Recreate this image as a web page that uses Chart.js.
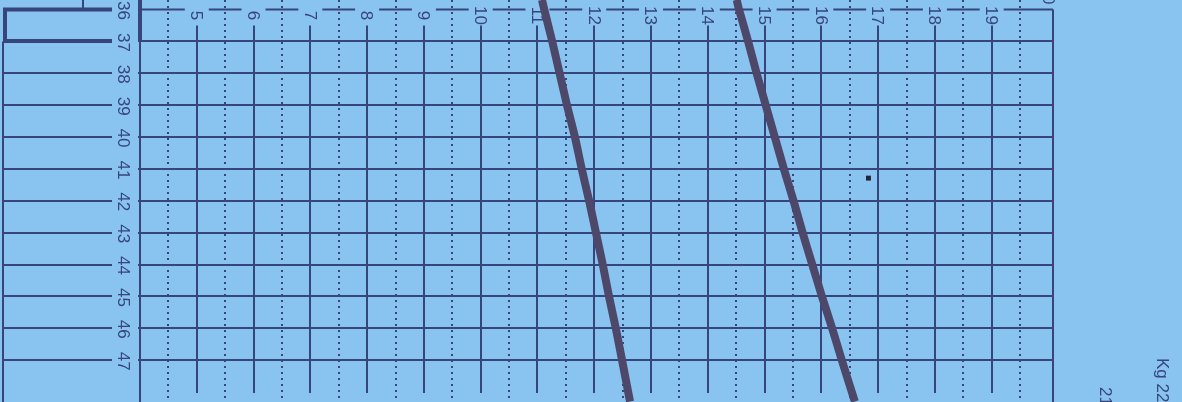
<!DOCTYPE html>
<html>
<head>
<meta charset="utf-8">
<script src="https://cdn.jsdelivr.net/npm/chart.js@4/dist/chart.umd.min.js"></script>
<style>
  html, body { margin: 0; padding: 0; background: #89c3f0; overflow: hidden; }
  #wrap { width: 1182px; height: 402px; }
</style>
</head>
<body>
<div id="wrap"><canvas id="growth" width="1182" height="402"></canvas></div>
<script>
// age in months (rows) and weight in kg (columns)
const monthTicks = [36, 37, 38, 39, 40, 41, 42, 43, 44, 45, 46, 47];
const kgTicks = [5, 6, 7, 8, 9, 10, 11, 12, 13, 14, 15, 16, 17, 18, 19];
const kgLabelsTop = ['5', '6', '7', '8', '9', '10', '11', '12', '13', '14', '15', '16', '17', '18', '19', '20'];
const kgLabelsBottom = ['21', 'Kg 22'];

// curve sample points: month -> kg
const curveMonths = [35.7, 36, 37, 38, 39, 40, 41, 42, 43, 44, 45, 46, 47, 48.3];
const lowerCurve = [11.08, 11.12, 11.26, 11.39, 11.52, 11.66, 11.78, 11.91, 12.03, 12.15, 12.26, 12.38, 12.49, 12.63];
const upperCurve = [14.51, 14.55, 14.71, 14.86, 15.02, 15.18, 15.34, 15.51, 15.67, 15.84, 16.01, 16.19, 16.36, 16.59];

// single plotted measurement
const dotMonth = [41.29];
const dotKg = [16.83];

const PAPER = '#89c3f0';
const INK = '#36457a';
const CURVE = '#4d486a';

function seg(ctx, x1, y1, x2, y2) {
  ctx.beginPath();
  ctx.moveTo(x1, y1);
  ctx.lineTo(x2, y2);
  ctx.stroke();
}

// text turned 90deg clockwise, as on the scanned sheet
function vtext(ctx, str, cx, cy, align) {
  ctx.save();
  ctx.translate(cx, cy);
  ctx.rotate(Math.PI / 2);
  ctx.textAlign = align || 'center';
  ctx.textBaseline = 'middle';
  ctx.fillText(str, 0, 0);
  ctx.restore();
}

const paper = {
  id: 'paper',
  beforeDraw(chart) {
    const { ctx, chartArea: a, scales: { x, y } } = chart;
    const H = chart.height;
    const yTop = y.getPixelForValue(36);
    const y37 = y.getPixelForValue(37);
    ctx.save();
    ctx.fillStyle = PAPER;
    ctx.fillRect(0, 0, chart.width, H);
    ctx.strokeStyle = INK;
    ctx.fillStyle = INK;

    // dotted half-kg lines
    ctx.lineWidth = 2;
    ctx.setLineDash([2, 4]);
    [4].concat(kgTicks).forEach(k => {
      const px = Math.round(x.getPixelForValue(k + 0.5));
      seg(ctx, px, 0, px, H);
    });
    ctx.setLineDash([]);

    // solid kg lines
    ctx.lineWidth = 2;
    kgTicks.forEach(k => {
      const px = Math.round(x.getPixelForValue(k));
      seg(ctx, px, yTop + 16, px, a.bottom + 1);
    });

    // month rows
    monthTicks.slice(1).forEach(m => {
      const py = Math.round(y.getPixelForValue(m));
      ctx.lineWidth = 2;
      seg(ctx, a.left - 2, py, a.right, py);
      ctx.lineWidth = m === 37 ? 4 : 2;
      seg(ctx, 3, py, 112, py);
    });

    // top row line, broken by the kg labels
    ctx.lineWidth = 2;
    let from = a.left;
    kgTicks.forEach(k => {
      const px = x.getPixelForValue(k);
      seg(ctx, from, yTop, px - 12, yTop);
      from = px + 12;
    });
    seg(ctx, from, yTop, a.right, yTop);

    // borders
    ctx.lineWidth = 4;
    seg(ctx, a.left, 0, a.left, y37);
    ctx.lineWidth = 2;
    seg(ctx, a.left, y37, a.left, H);
    seg(ctx, a.right, yTop, a.right, H);

    // box on the left
    ctx.lineWidth = 4;
    seg(ctx, 3, yTop, 112, yTop);
    seg(ctx, 5, yTop, 5, y37);
    ctx.lineWidth = 2;
    seg(ctx, 3, y37, 3, H);
    seg(ctx, 83, 0, 83, yTop);

    // labels
    ctx.font = '17px "Liberation Sans", Arial, sans-serif';
    monthTicks.forEach(m => vtext(ctx, String(m), 123, y.getPixelForValue(m) + 1));
    kgLabelsTop.forEach((t, i) => {
      const k = 5 + i;
      const cy = k === 20 ? -5 : yTop + 6;
      vtext(ctx, t, x.getPixelForValue(k) - 1, cy);
    });
    vtext(ctx, kgLabelsBottom[0], x.getPixelForValue(21) - 1, 387, 'left');
    vtext(ctx, kgLabelsBottom[1], x.getPixelForValue(22), 358, 'left');
    ctx.restore();
  }
};

const curveStyle = {
  borderColor: CURVE,
  borderWidth: 8,
  pointRadius: 0,
  tension: 0.2,
  fill: false,
  clip: false
};

new Chart(document.getElementById('growth').getContext('2d'), {
  type: 'line',
  data: {
    datasets: [
      Object.assign({ data: curveMonths.map((m, i) => ({ x: lowerCurve[i], y: m })) }, curveStyle),
      Object.assign({ data: curveMonths.map((m, i) => ({ x: upperCurve[i], y: m })) }, curveStyle),
      {
        type: 'scatter',
        data: dotMonth.map((m, i) => ({ x: dotKg[i], y: m })),
        pointStyle: 'rect',
        pointRadius: 3.5,
        backgroundColor: '#23233a',
        borderWidth: 0,
        clip: false
      }
    ]
  },
  options: {
    responsive: false,
    animation: false,
    events: [],
    layout: { padding: { left: 140, right: 129, top: 9.5, bottom: 10 } },
    scales: {
      x: { type: 'linear', min: 4, max: 20.08, display: false },
      y: { type: 'linear', min: 36, max: 48, reverse: true, display: false }
    },
    plugins: { legend: { display: false }, tooltip: { enabled: false } }
  },
  plugins: [paper]
});
</script>
</body>
</html>
